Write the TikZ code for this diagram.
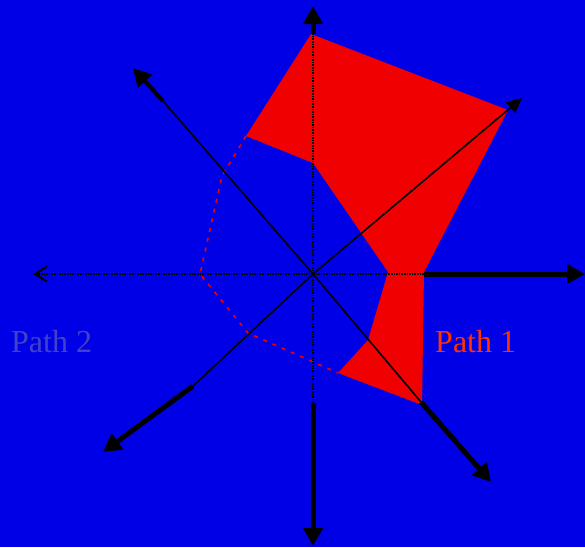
\documentclass[tikz,border=0pt]{standalone}
\usepackage{fontspec}
\setmainfont{Liberation Serif}
\usetikzlibrary{arrows.meta}
\definecolor{bgblue}{RGB}{0,0,230}
\definecolor{pathred}{RGB}{240,0,0}
\definecolor{labred}{RGB}{255,50,0}
\definecolor{labblue}{RGB}{66,66,200}
\tikzset{
  inneraxis/.style={line width=2pt, dash pattern=on 1.6pt off 1pt},
  thinaxis/.style={line width=1.6pt},
  outeraxis/.style={line width=5pt, -{Triangle[length=18pt, width=19pt]}},
  outline/.style={draw=pathred, line width=1.6pt, dash pattern=on 4pt off 6pt},
  pathlabel/.style={font=\fontsize{32}{32}\selectfont, inner sep=0pt},
}
\begin{document}
\begin{tikzpicture}[x=1pt, y=-1pt]
  \fill[bgblue] (0,0) rectangle (585,547);
  \useasboundingbox (0,0) rectangle (585,547);
  % centre and axis points
  \coordinate (o) at (313,274);
  \coordinate (nTop) at (313,6);    \coordinate (nTopIn) at (313,34);
  \coordinate (nBot) at (313,546);  \coordinate (nBotIn) at (313,403);
  \coordinate (nRight) at (585,274); \coordinate (nRightIn) at (424,274);
  \coordinate (nLeft) at (33,274);
  \coordinate (nUR) at (522,98);
  \coordinate (nUL) at (133,68);    \coordinate (nULIn) at (163,101);
  \coordinate (nDL) at (103,452);   \coordinate (nDLIn) at (193,386);
  \coordinate (nDR) at (491,482);   \coordinate (nDRIn) at (421,402);
  % path 1 (filled)
  \coordinate (p1) at (311,34);  \coordinate (p2) at (508,110);
  \coordinate (p3) at (424,272); \coordinate (p4) at (422,405);
  \coordinate (p5) at (338,373); \coordinate (p6) at (368,340);
  \coordinate (p7) at (388,272); \coordinate (p8) at (313,163);
  \coordinate (p9) at (246,136);
  \fill[pathred] (p1) -- (p2) -- (p3) -- (p4) -- (p5) -- (p6) -- (p7) -- (p8) -- (p9) -- cycle;
  % path 2 (outline)
  \coordinate (q1) at (222,176); \coordinate (q2) at (200,274);
  \coordinate (q3) at (248,333);
  \draw[outline] (p9) -- (q1) -- (q2) -- (q3) -- (p5);
  % axes
  \draw[inneraxis] (o) -- (nTopIn);
  \draw[outeraxis] (nTopIn) -- (nTop);
  \draw[inneraxis] (o) -- (nBotIn);
  \draw[outeraxis] (nBotIn) -- (nBot);
  \draw[inneraxis] (o) -- (nRightIn);
  \draw[outeraxis] (nRightIn) -- (nRight);
  \draw[inneraxis, -{Straight Barb[length=12pt, width=15pt]}] (o) -- (nLeft);
  \draw[thinaxis, -{Triangle[length=15pt, width=14pt]}] (o) -- (nUR);
  \draw[thinaxis] (o) -- (nULIn);
  \draw[outeraxis, line width=4pt] (nULIn) -- (nUL);
  \draw[thinaxis] (o) -- (nDLIn);
  \draw[outeraxis] (nDLIn) -- (nDL);
  \draw[thinaxis] (o) -- (nDRIn);
  \draw[outeraxis] (nDRIn) -- (nDR);
  % labels
  \node[pathlabel, text=labred, anchor=west] (lab1) at (435,342) {Path 1};
  \node[pathlabel, text=labblue, anchor=west] (lab2) at (11,342) {Path 2};
\end{tikzpicture}
\end{document}
